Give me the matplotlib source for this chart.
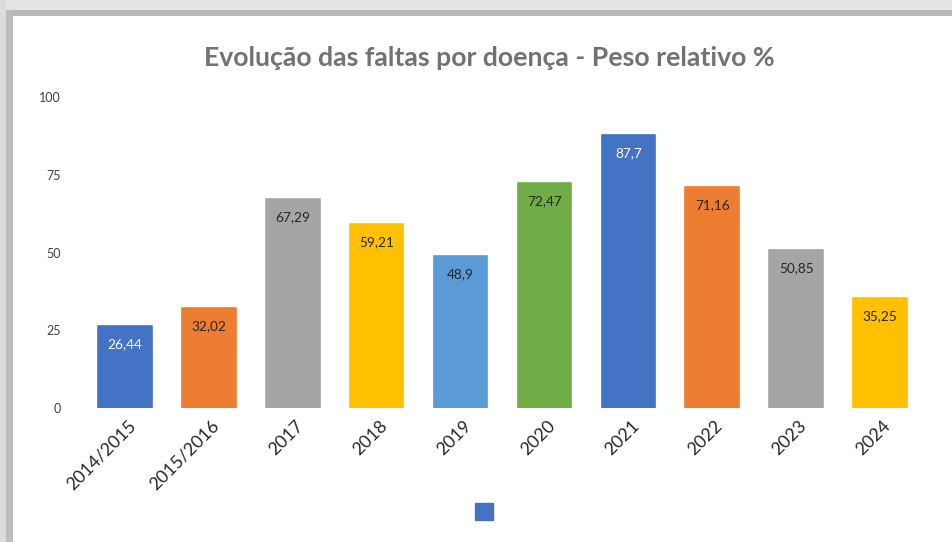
import matplotlib
matplotlib.use("Agg")
import matplotlib.pyplot as plt
import matplotlib.transforms as mtransforms
from matplotlib.patches import Patch, Rectangle

# data
categories = ["2014/2015", "2015/2016", "2017", "2018", "2019",
              "2020", "2021", "2022", "2023", "2024"]
values = [26.44, 32.02, 67.29, 59.21, 48.9, 72.47, 87.7, 71.16, 50.85, 35.25]
value_labels = ["26,44", "32,02", "67,29", "59,21", "48,9",
                "72,47", "87,7", "71,16", "50,85", "35,25"]
bar_colors = ["#4472C4", "#ED7D31", "#A5A5A5", "#FFC000", "#5B9BD5",
              "#70AD47", "#4472C4", "#ED7D31", "#A5A5A5", "#FFC000"]
label_colors = ["white", "#262626", "#262626", "#262626", "#262626",
                "#262626", "white", "#262626", "#262626", "#262626"]
yticks = [0, 25, 50, 75, 100]

plt.rcParams['font.family'] = ['Lato', 'DejaVu Sans']

W, H = 952, 542
fig = plt.figure(figsize=(W / 100, H / 100), dpi=100)
fig.patch.set_facecolor("white")

# shadow frame around the chart (top and left)
fig.patches.append(Rectangle((0, 1 - 10 / H), 1, 10 / H, transform=fig.transFigure,
                             facecolor="#e4e4e4", edgecolor="none", zorder=0))
fig.patches.append(Rectangle((0, 1 - 16 / H), 1, 6 / H, transform=fig.transFigure,
                             facecolor="#b8b8b8", edgecolor="none", zorder=0))
fig.patches.append(Rectangle((0, 0), 6 / W, 1, transform=fig.transFigure,
                             facecolor="#dcdcdc", edgecolor="none", zorder=0))
fig.patches.append(Rectangle((6 / W, 0), 7 / W, 1 - 10 / H, transform=fig.transFigure,
                             facecolor="#bdbdbd", edgecolor="none", zorder=0))

ax = fig.add_axes([83 / W, 1 - 408 / H, 839 / W, 311 / H])
ax.set_facecolor("none")

x = list(range(len(categories)))
bars = ax.bar(x, values, width=0.64, color=bar_colors, edgecolor=bar_colors,
              linewidth=1.2, joinstyle="round")

for b, lab, c in zip(bars, value_labels, label_colors):
    ax.annotate(lab, xy=(b.get_x() + b.get_width() / 2, b.get_height()),
                xytext=(0, -13), textcoords="offset points",
                ha="center", va="center", fontsize=9.8, color=c)

ax.set_xlim(-0.5, len(categories) - 0.5)
ax.set_ylim(0, 100)
ax.set_yticks(yticks)
ax.set_yticklabels([str(t) for t in yticks], fontsize=9, color="#404040")
ax.tick_params(axis="y", length=0, pad=16)
ax.set_xticks(x)
ax.set_xticklabels(categories, fontsize=12.8, color="#262626",
                   rotation=45, ha="right", va="center", rotation_mode="anchor")
ax.tick_params(axis="x", length=0, pad=11)
offset = mtransforms.ScaledTranslation(8 / 100, 0, fig.dpi_scale_trans)
for t in ax.get_xticklabels():
    t.set_transform(t.get_transform() + offset)

for s in ax.spines.values():
    s.set_visible(False)

fig.text(489 / W, 1 - 58 / H, "Evolução das faltas por doença - Peso relativo %",
         ha="center", va="center", fontsize=19.2, fontweight="bold", color="#727272")

fig.legend(handles=[Patch(facecolor="#4472C4", edgecolor="#4472C4")], labels=[""],
           loc="center", bbox_to_anchor=(484 / W, 1 - 512 / H), frameon=False,
           handlelength=1, handleheight=1, handletextpad=0, fontsize=13,
           borderpad=0, borderaxespad=0)

fig.savefig("out.png", dpi=100)
